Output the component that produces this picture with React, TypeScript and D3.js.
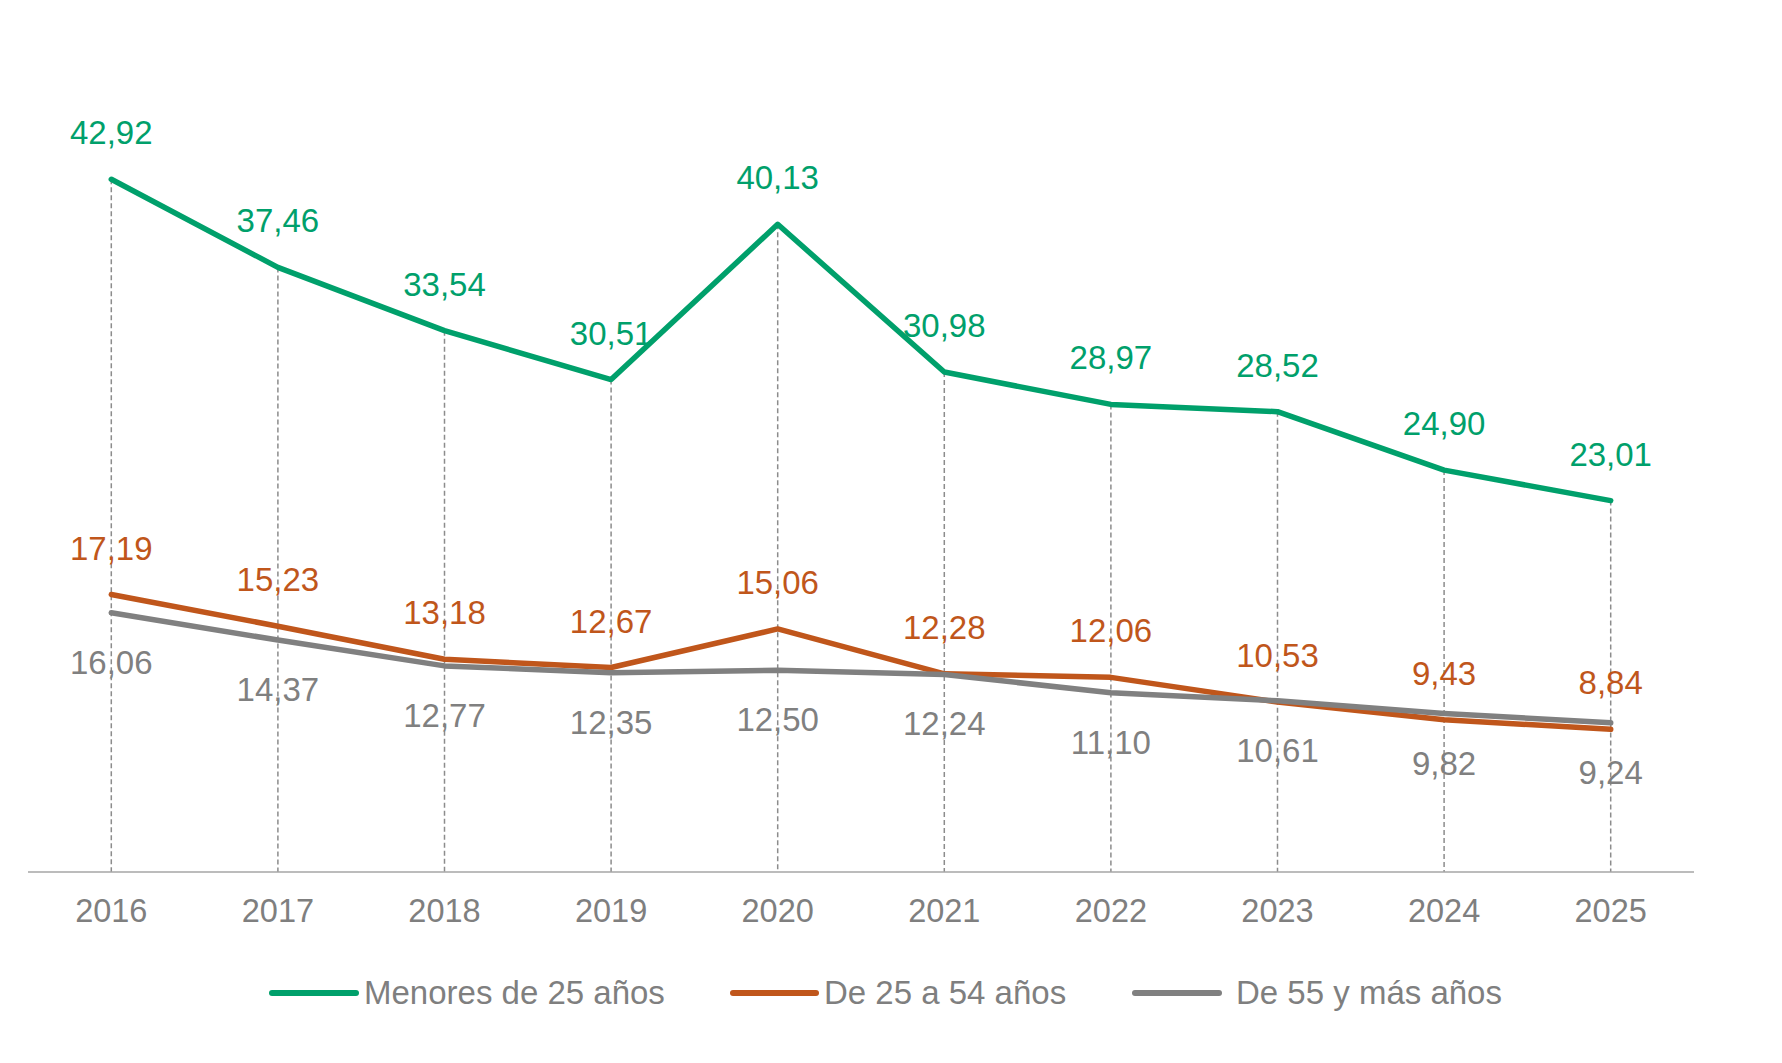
import React from "react";
import * as d3 from "d3";

const years = ["2016", "2017", "2018", "2019", "2020", "2021", "2022", "2023", "2024", "2025"];
const menores25 = [42.92, 37.46, 33.54, 30.51, 40.13, 30.98, 28.97, 28.52, 24.9, 23.01];
const de25a54 = [17.19, 15.23, 13.18, 12.67, 15.06, 12.28, 12.06, 10.53, 9.43, 8.84];
const de55ymas = [16.06, 14.37, 12.77, 12.35, 12.5, 12.24, 11.1, 10.61, 9.82, 9.24];
const seriesNames = ["Menores de 25 años", "De 25 a 54 años", "De 55 y más años"];

const W = 1782;
const H = 1063;
const FONT = "'Liberation Sans', Arial, Helvetica, sans-serif";
const GREEN = "#00A06B";
const ORANGE = "#C0561B";
const GRAY = "#808080";
const TEXT_GRAY = "#7F7F7F";

const fmt = (v: number) => v.toFixed(2).replace(".", ",");

export default function App() {
  const x = d3.scaleBand<string>().domain(years).range([28, 1694]).padding(0);
  const cx = (y: string) => (x(y) as number) + x.bandwidth() / 2;
  const y = d3.scaleLinear().domain([0, 50]).range([872, 65]);

  const line = d3
    .line<number>()
    .x((_, i) => cx(years[i]))
    .y((d) => y(d));

  const series = [
    { name: seriesNames[0], values: menores25, color: GREEN, labelPos: "above" },
    { name: seriesNames[1], values: de25a54, color: ORANGE, labelPos: "above" },
    { name: seriesNames[2], values: de55ymas, color: GRAY, labelPos: "below" },
  ];

  const legendItems = [
    { name: seriesNames[0], color: GREEN, x0: 272, x1: 356, tx: 364 },
    { name: seriesNames[1], color: ORANGE, x0: 733, x1: 816, tx: 824 },
    { name: seriesNames[2], color: GRAY, x0: 1135, x1: 1219, tx: 1236 },
  ];

  return (
    <svg
      width={W}
      height={H}
      style={{ position: "absolute", left: 0, top: 0, background: "#fff" }}
      fontFamily={FONT}
    >
      {years.map((yr, i) => (
        <line
          key={"d" + yr}
          x1={cx(yr)}
          x2={cx(yr)}
          y1={y(menores25[i])}
          y2={y(0)}
          stroke="#8C8C8C"
          strokeWidth={1.5}
          strokeDasharray="5,3"
        />
      ))}
      <line x1={28} x2={1694} y1={y(0)} y2={y(0)} stroke="#A6A6A6" strokeWidth={1.5} />
      {years.map((yr) => (
        <text
          key={"t" + yr}
          x={cx(yr)}
          y={922}
          textAnchor="middle"
          fontSize={32.5}
          fill={TEXT_GRAY}
        >
          {yr}
        </text>
      ))}
      {series.map((s) => (
        <path
          key={"l" + s.name}
          d={line(s.values) || ""}
          fill="none"
          stroke={s.color}
          strokeWidth={5.5}
          strokeLinejoin="round"
          strokeLinecap="round"
        />
      ))}
      {series.map((s) =>
        s.values.map((v, i) => (
          <text
            key={"v" + s.name + i}
            x={cx(years[i])}
            y={s.labelPos === "above" ? y(v) - 35 : y(v) + 61}
            textAnchor="middle"
            fontSize={33}
            fill={s.color}
          >
            {fmt(v)}
          </text>
        ))
      )}
      {legendItems.map((l) => (
        <g key={"lg" + l.name}>
          <line
            x1={l.x0}
            x2={l.x1}
            y1={993}
            y2={993}
            stroke={l.color}
            strokeWidth={6}
            strokeLinecap="round"
          />
          <text x={l.tx} y={1004} fontSize={33} fill={TEXT_GRAY}>
            {l.name}
          </text>
        </g>
      ))}
    </svg>
  );
}
